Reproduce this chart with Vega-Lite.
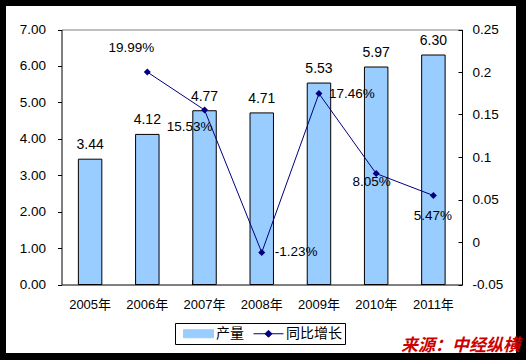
{
  "$schema": "https://vega.github.io/schema/vega-lite/v6.json",
  "width": 510,
  "height": 347,
  "autosize": {"type": "none"},
  "padding": {"left": 6, "top": 6, "right": 10, "bottom": 7},
  "background": "#000000",
  "config": {
    "locale": {"number": {"decimal": ".", "thousands": ",", "grouping": [3], "currency": ["$", ""], "minus": "-"}},
    "view": {"fill": "#ffffff", "stroke": null},
    "axis": {"labelFont": "Liberation Sans, Noto Sans CJK SC", "labelColor": "#000000", "domainColor": "#000000", "tickColor": "#000000", "grid": false, "labelFontSize": 13.5},
    "text": {"font": "Liberation Sans", "color": "#000000"}
  },
  "title": {
    "text": "来源：中经纵横",
    "orient": "bottom",
    "anchor": "end",
    "offset": -15,
    "dx": 4,
    "color": "#CC0000",
    "fontSize": 17,
    "fontWeight": "bold",
    "fontStyle": "italic",
    "font": "Noto Sans CJK SC"
  },
  "data": {
    "values": [
      {"year": "2005年", "production": 3.44, "growth": null},
      {"year": "2006年", "production": 4.12, "growth": 0.1999},
      {"year": "2007年", "production": 4.77, "growth": 0.1553},
      {"year": "2008年", "production": 4.71, "growth": -0.0123},
      {"year": "2009年", "production": 5.53, "growth": 0.1746},
      {"year": "2010年", "production": 5.97, "growth": 0.0805},
      {"year": "2011年", "production": 6.30, "growth": 0.0547}
    ]
  },
  "layer": [
    {
      "encoding": {
        "x": {
          "field": "year", "type": "nominal", "sort": null,
          "scale": {"range": [55.5, 456], "paddingInner": 0.59, "paddingOuter": 0.295},
          "axis": {"orient": "bottom", "offset": -68.5, "title": null, "bandPosition": 0, "tickSize": -5, "labelPadding": 19, "labelAngle": 0, "labelFontSize": 13}
        },
        "y": {
          "field": "production", "type": "quantitative",
          "scale": {"domain": [0, 7], "range": [278.5, 23.5], "nice": false},
          "axis": {"orient": "left", "offset": -55.5, "title": null, "values": [0, 1, 2, 3, 4, 5, 6, 7], "format": ".2f", "tickSize": 4, "labelPadding": 12}
        }
      },
      "layer": [
        {
          "mark": {"type": "bar", "stroke": "#000000", "strokeWidth": 1},
          "encoding": {
            "color": {
              "datum": "产量",
              "scale": {"domain": ["产量", "同比增长"], "range": ["#99CCFF", "#000080"]},
              "legend": {
                "orient": "none", "legendX": 169, "legendY": 317,
                "direction": "horizontal", "title": null,
                "strokeColor": "#000000", "fillColor": "#ffffff",
                "padding": 3, "symbolSize": 196, "symbolOffset": 13, "labelOffset": 10,
                "columnPadding": 4, "labelFont": "Noto Sans CJK SC", "labelFontSize": 14, "labelColor": "#000000",
                "symbolStrokeWidth": 1, "symbolOpacity": 1,
                "symbolType": {"expr": "datum.value === '产量' ? 'M-2.14,-0.57H2.14V0.57H-2.14Z' : 'M-2.14,0H2.14M0,-0.5L0.5,0L0,0.5L-0.5,0Z'"},
                "symbolFillColor": {"expr": "datum.value === '产量' ? '#99CCFF' : '#000080'"},
                "symbolStrokeColor": {"expr": "datum.value === '产量' ? '#000000' : '#000080'"}
              }
            }
          }
        },
        {
          "mark": {"type": "text", "baseline": "bottom", "dy": -7, "fontSize": 14},
          "encoding": {"text": {"field": "production", "type": "quantitative", "format": ".2f"}}
        }
      ]
    },
    {
      "transform": [{"filter": "isValid(datum.growth)"}],
      "encoding": {
        "x": {
          "field": "year", "type": "nominal", "sort": null,
          "axis": {"orient": "top", "offset": -23.5, "title": null, "ticks": false, "labels": false, "domainColor": "#808080"}
        },
        "y": {
          "field": "growth", "type": "quantitative",
          "scale": {"domain": [-0.05, 0.25], "range": [278.5, 23.5], "nice": false, "zero": false},
          "axis": {"orient": "right", "offset": -54, "title": null, "values": [-0.05, 0, 0.05, 0.1, 0.15, 0.2, 0.25], "format": "~g", "tickSize": -4, "labelPadding": 14}
        }
      },
      "layer": [
        {
          "mark": {"type": "line", "strokeWidth": 1},
          "encoding": {"color": {"datum": "同比增长"}}
        },
        {
          "mark": {"type": "point", "shape": "diamond", "filled": true, "size": 49, "opacity": 1},
          "encoding": {"color": {"datum": "同比增长"}}
        },
        {
          "transform": [{"filter": "datum.year === '2006年'"}],
          "mark": {"type": "text", "baseline": "middle", "align": "center", "dx": -16, "dy": -24, "fontSize": 13.5},
          "encoding": {"text": {"field": "growth", "type": "quantitative", "format": ".2%"}}
        },
        {
          "transform": [{"filter": "datum.year === '2007年'"}],
          "mark": {"type": "text", "baseline": "middle", "align": "center", "dx": -15, "dy": 17, "fontSize": 13.5},
          "encoding": {"text": {"field": "growth", "type": "quantitative", "format": ".2%"}}
        },
        {
          "transform": [{"filter": "datum.year === '2008年'"}],
          "mark": {"type": "text", "baseline": "middle", "align": "left", "dx": 13, "dy": 0, "fontSize": 13.5},
          "encoding": {"text": {"field": "growth", "type": "quantitative", "format": ".2%"}}
        },
        {
          "transform": [{"filter": "datum.year === '2009年'"}],
          "mark": {"type": "text", "baseline": "middle", "align": "left", "dx": 10, "dy": 0, "fontSize": 13.5},
          "encoding": {"text": {"field": "growth", "type": "quantitative", "format": ".2%"}}
        },
        {
          "transform": [{"filter": "datum.year === '2010年'"}],
          "mark": {"type": "text", "baseline": "middle", "align": "center", "dx": -4.5, "dy": 8, "fontSize": 13.5},
          "encoding": {"text": {"field": "growth", "type": "quantitative", "format": ".2%"}}
        },
        {
          "transform": [{"filter": "datum.year === '2011年'"}],
          "mark": {"type": "text", "baseline": "middle", "align": "center", "dx": -0.5, "dy": 20, "fontSize": 13.5},
          "encoding": {"text": {"field": "growth", "type": "quantitative", "format": ".2%"}}
        }
      ]
    }
  ],
  "resolve": {"scale": {"y": "independent"}, "axis": {"x": "independent", "y": "independent"}}
}
